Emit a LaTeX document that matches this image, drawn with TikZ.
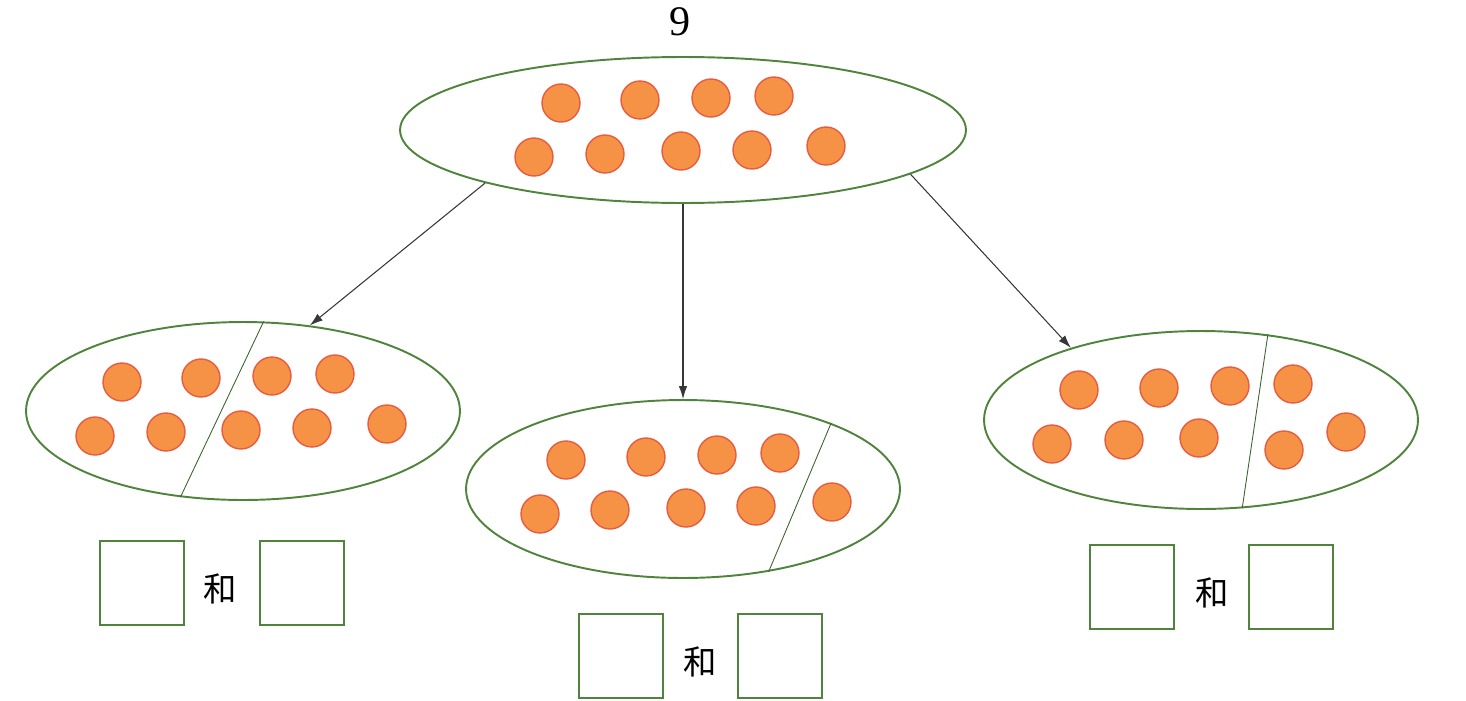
\documentclass[tikz,border=0pt]{standalone}
\usepackage{fontspec}
\newfontfamily\cjk{Noto Sans CJK SC}
\newfontfamily\numfont{Liberation Serif}
\usetikzlibrary{arrows.meta,shapes.geometric,positioning}
\definecolor{bagc}{RGB}{80,132,60}
\definecolor{dotfill}{RGB}{246,146,70}
\definecolor{dotrim}{RGB}{230,92,64}
\definecolor{arrc}{RGB}{55,55,55}

\begin{document}
\begin{tikzpicture}[x=0.02cm,y=-0.02cm,
  bag/.style={ellipse,draw=bagc,line width=1.1pt,inner sep=0pt,
              minimum width=8.68cm,minimum height=3.56cm},
  ball/.style={fill=dotfill,draw=dotrim,line width=0.8pt},
  box/.style={draw=bagc,line width=1pt,minimum size=1.68cm,inner sep=0pt},
  cut/.style={draw=bagc!75!black,line width=0.5pt},
  link/.style={-{Latex[length=2.6mm,width=1.7mm]},arrc,line width=0.6pt},
  word/.style={font=\cjk\fontsize{19}{22}\selectfont}]

\useasboundingbox (0,0) rectangle (1466,700);

% the whole: nine
\node[font=\numfont\fontsize{24}{28}\selectfont] (total) at (680,22) {9};
\node[bag,minimum width=11.32cm,minimum height=2.92cm] (whole) at (683,130) {};
\foreach \x/\y in {561/103,640/100,711/98,774/96,
                   534/157,605/154,681/151,752/150,826/146}{
  \filldraw[ball] (\x,\y) circle[radius=0.38cm];
}

% three ways to split
\node[bag] (left)  at (243,411) {};
\node[bag] (mid)   at (683,489) {};
\node[bag] (right) at (1201,420) {};

\foreach \x/\y in {122/382,201/378,272/376,335/374,
                   95/436,166/432,241/430,312/428,387/424}{
  \filldraw[ball] (\x,\y) circle[radius=0.38cm];
}
\foreach \x/\y in {566/460,646/457,717/455,780/453,
                   540/514,610/510,686/508,756/506,832/502}{
  \filldraw[ball] (\x,\y) circle[radius=0.38cm];
}
\foreach \x/\y in {1079/390,1159/388,1230/386,1293/384,
                   1052/444,1124/440,1199/438,1284/450,1346/432}{
  \filldraw[ball] (\x,\y) circle[radius=0.38cm];
}

% dividing lines
\draw[cut] (left.77) -- (left.-126);
\draw[cut] (mid.24) -- (mid.-44);
\draw[cut] (right.52) -- (right.-65);

% arrows
\draw[link] (whole.195) -- (left.52);
\draw[link] (whole.south) -- (mid.north);
\draw[link] (whole.-11) -- (right.151);

% answer boxes
\node[box] (la) at (142,583) {};
\node[word] (lw) at (220,589) {和};
\node[box] (lb) at (302,583) {};

\node[box] (ma) at (621,656) {};
\node[word] (mw) at (700,662) {和};
\node[box] (mb) at (780,656) {};

\node[box] (ra) at (1132,587) {};
\node[word] (rw) at (1212,593) {和};
\node[box] (rb) at (1291,587) {};

\end{tikzpicture}
\end{document}
